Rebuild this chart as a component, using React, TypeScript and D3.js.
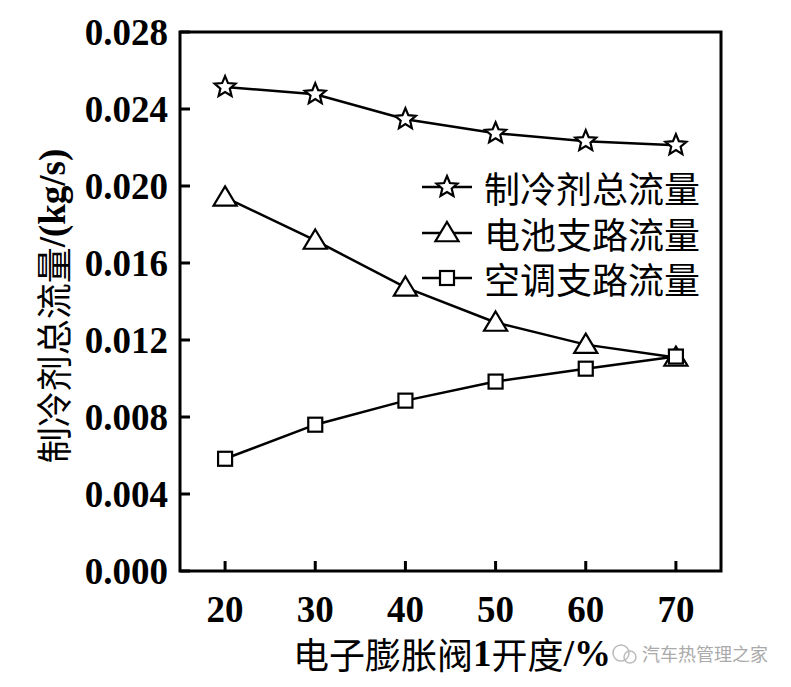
import React from "react";
import * as d3 from "d3";

const openings = [20, 30, 40, 50, 60, 70];
const totalFlow = [0.02514, 0.02477, 0.02347, 0.02274, 0.02233, 0.02212];
const batteryFlow = [0.01941, 0.01717, 0.01473, 0.01291, 0.01176, 0.01109];
const acFlow = [0.00583, 0.0076, 0.00885, 0.00984, 0.01051, 0.01114];
const yTicks = [0, 0.004, 0.008, 0.012, 0.016, 0.02, 0.024, 0.028];
const xTicks = [20, 30, 40, 50, 60, 70];
const seriesNames = ["制冷剂总流量", "电池支路流量", "空调支路流量"];

const W = 791, H = 687;
const L = 180, R = 721, T = 32, B = 571;

const x = d3.scaleLinear().domain([15, 75]).range([L, R]);
const y = d3.scaleLinear().domain([0, 0.028]).range([B, T]);

const starPath = (cx: number, cy: number, r: number) => {
  const pts: string[] = [];
  for (let i = 0; i < 10; i++) {
    const rr = i % 2 === 0 ? r : r * 0.45;
    const a = -Math.PI / 2 + (i * Math.PI) / 5;
    pts.push(`${cx + rr * Math.cos(a)},${cy + rr * Math.sin(a)}`);
  }
  return "M" + pts.join("L") + "Z";
};

const Marker = ({ kind, cx, cy }: { kind: number; cx: number; cy: number }) => {
  if (kind === 0)
    return <path d={starPath(cx, cy, 11)} fill="white" stroke="black" strokeWidth={2.2} strokeLinejoin="miter" />;
  if (kind === 1) {
    const s = 11;
    return (
      <path
        d={`M${cx},${cy - s}L${cx + s * 1.05},${cy + s * 0.75}L${cx - s * 1.05},${cy + s * 0.75}Z`}
        fill="white"
        stroke="black"
        strokeWidth={2.2}
      />
    );
  }
  return <rect x={cx - 7} y={cy - 7} width={14} height={14} fill="white" stroke="black" strokeWidth={2.2} />;
};

export default function App() {
  const series = [totalFlow, batteryFlow, acFlow];
  const line = d3
    .line<number>()
    .x((_, i) => x(openings[i]))
    .y((d) => y(d));
  const legendY = [187, 233, 278];
  return (
    <svg width={W} height={H} style={{ position: "absolute", left: 0, top: 0, background: "white" }}>
      <rect x={0} y={0} width={W} height={H} fill="white" />
      {series.map((s, k) => (
        <path key={"l" + k} d={line(s) || ""} fill="none" stroke="black" strokeWidth={2.5} />
      ))}
      {series.map((s, k) =>
        s.map((v, i) => <Marker key={`m${k}-${i}`} kind={k} cx={x(openings[i])} cy={y(v)} />)
      )}
      {/* legend */}
      {seriesNames.map((n, k) => (
        <g key={"lg" + k}>
          <line x1={422} x2={472} y1={legendY[k]} y2={legendY[k]} stroke="black" strokeWidth={2.5} />
          <Marker kind={k} cx={447} cy={legendY[k]} />
          <text
            x={484}
            y={legendY[k]}
            dominantBaseline="central"
            fontFamily="'Noto Sans CJK SC'"
            fontSize={36}
            fill="black"
          >
            {n}
          </text>
        </g>
      ))}
      {/* frame */}
      <rect x={L} y={T} width={R - L} height={B - T} fill="none" stroke="black" strokeWidth={3} />
      {yTicks.map((t) => (
        <g key={"yt" + t}>
          <line x1={L} x2={L + 10} y1={y(t)} y2={y(t)} stroke="black" strokeWidth={3} />
          <text
            x={L - 12}
            y={y(t) + 13}
            textAnchor="end"
            fontFamily="'Liberation Serif'"
            fontWeight="bold"
            fontSize={37}
            fill="black"
          >
            {d3.format(".3f")(t)}
          </text>
        </g>
      ))}
      {xTicks.map((t) => (
        <g key={"xt" + t}>
          <line x1={x(t)} x2={x(t)} y1={B} y2={B - 10} stroke="black" strokeWidth={3} />
          <text
            x={x(t)}
            y={622}
            textAnchor="middle"
            fontFamily="'Liberation Serif'"
            fontWeight="bold"
            fontSize={37}
            fill="black"
          >
            {t}
          </text>
        </g>
      ))}
      <text x={452} y={653} textAnchor="middle" dominantBaseline="central" fontSize={36} fill="black">
        <tspan fontFamily="'Noto Sans CJK SC'">电子膨胀阀</tspan>
        <tspan fontFamily="'Liberation Serif'" fontWeight="bold" fontSize={37}>1</tspan>
        <tspan fontFamily="'Noto Sans CJK SC'">开度</tspan>
        <tspan fontFamily="'Liberation Serif'" fontWeight="bold" fontSize={37}>/%</tspan>
      </text>
      <text
        transform={`translate(52,306) rotate(-90)`}
        textAnchor="middle"
        dominantBaseline="central"
        fontSize={36}
        fill="black"
      >
        <tspan fontFamily="'Noto Sans CJK SC'">制冷剂总流量</tspan>
        <tspan fontFamily="'Liberation Serif'" fontWeight="bold" fontSize={37}>/(kg/s)</tspan>
      </text>
      {/* watermark */}
      <circle cx={621} cy={653} r={8} fill="none" stroke="#bbb" strokeWidth={1.5} />
      <circle cx={630} cy={657} r={6} fill="none" stroke="#bbb" strokeWidth={1.5} />
      <text x={642} y={653} dominantBaseline="central" fontFamily="'Noto Sans CJK SC'" fontSize={18} fill="#aaa">
        汽车热管理之家
      </text>
    </svg>
  );
}
